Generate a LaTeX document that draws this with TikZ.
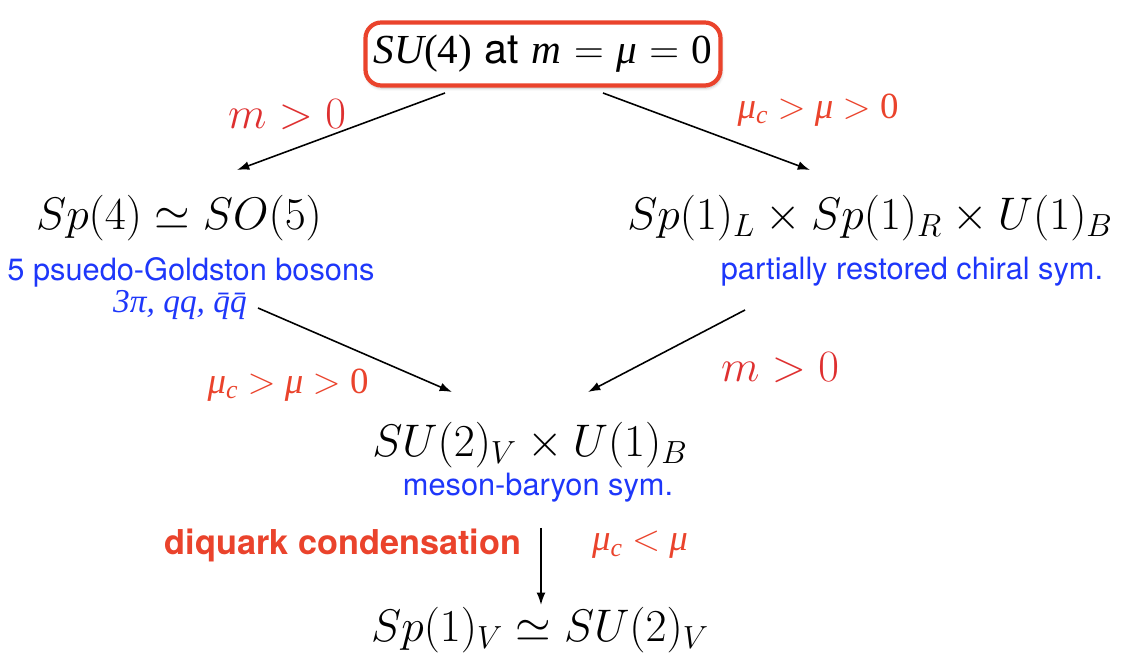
\RequirePackage{fix-cm}
\documentclass[tikz,border=0pt]{standalone}
\usepackage{amsmath}
\usepackage{fontspec}
\setsansfont{TeX Gyre Heros}
\newfontfamily\kfont{Liberation Serif}
\usetikzlibrary{arrows.meta, positioning, calc, shadows.blur}

\definecolor{condred}{RGB}{234,67,44}
\definecolor{massred}{RGB}{222,48,48}
\definecolor{noteblue}{RGB}{30,55,250}

\begin{document}
\begin{tikzpicture}[
        % styles
        >={Latex[length=7pt,width=5pt]},
        group/.style={inner sep=2pt, font=\fontsize{26}{30}\selectfont},
        topbox/.style={draw=condred, line width=2.4pt, rounded corners=9pt,
            minimum width=7.1cm, minimum height=1.26cm, fill=white,
            blur shadow={shadow xshift=0.6pt, shadow yshift=-1.5pt, shadow blur steps=6, shadow opacity=25},
            font=\fontsize{23.5}{28}\selectfont},
        note/.style={inner sep=1pt, text=noteblue, font=\sffamily\fontsize{17.5}{21}\selectfont},
        masslabel/.style={inner sep=1pt, text=massred, font=\fontsize{25.5}{29}\selectfont},
        chemlabel/.style={inner sep=1pt, text=condred, font=\kfont\fontsize{21}{25}\selectfont},
        arrow/.style={->, line width=0.9pt, black}
    ]
    \useasboundingbox (0,0) rectangle (22.48,13.14);

    % 1. nodes
    \node (top) [topbox] at (10.86,12.06)
        {{\kfont\itshape SU}{\kfont(4)} {\sffamily at} {\kfont\itshape m} $=$ {\kfont\itshape μ} $=$ {\kfont 0}};

    \node (sp4) [group] at (3.58,8.78) {$Sp(4) \simeq SO(5)$};
    \node (chiral) [group] at (17.4,8.78) {$Sp(1)_L \times Sp(1)_R \times U(1)_B$};

    \node (goldston) [note] at (3.82,7.70) {5 psuedo-Goldston bosons};
    \node (pions) [note, font=\kfont\itshape\fontsize{19}{22}\selectfont] at (3.6,7.04)
        {3π, \textit{qq}, \textit{q̄q̄}};
    \node (restored) [note] at (18.24,7.70) {partially restored chiral sym.};

    \node (su2) [group] at (10.6,4.24) {$SU(2)_V \times U(1)_B$};
    \node (mesbar) [note] at (10.76,3.38) {meson-baryon sym.};

    \node (sp1v) [group] at (10.8,0.54) {$Sp(1)_V \simeq SU(2)_V$};

    % 2. labels on the arrows
    \node (m1) [masslabel] at (5.74,10.84) {$m > 0$};
    \node (mu1) [chemlabel] at (16.36,10.94) {{\itshape μ\textsubscript{c}} $>$ {\itshape μ} $>$ 0};
    \node (mu2) [chemlabel] at (5.76,5.44) {{\itshape μ\textsubscript{c}} $>$ {\itshape μ} $>$ 0};
    \node (m2) [masslabel] at (15.6,5.78) {$m > 0$};
    \node (diq) [inner sep=1pt, text=condred, font=\sffamily\bfseries\fontsize{19.5}{23}\selectfont]
        at (6.86,2.24) {diquark condensation};
    \node (mu3) [chemlabel] at (12.8,2.24) {{\itshape μ\textsubscript{c}} $<$ {\itshape μ}};

    % 3. arrows
    \draw[arrow] ([shift={(-1.96,-0.78)}]top.center) -- ([shift={(1.16,0.96)}]sp4.center);
    \draw[arrow] ([shift={(1.2,-0.78)}]top.center) -- ([shift={(-1.2,0.96)}]chiral.center);
    \draw[arrow] ([shift={(1.56,-0.06)}]pions.center) -- ([shift={(-1.56,1.06)}]su2.center);
    \draw[arrow] ([shift={(-3.34,-0.76)}]restored.center) -- ([shift={(1.16,1.06)}]su2.center);
    \draw[arrow] ([shift={(0.22,-1.66)}]su2.center) -- ([shift={(0.02,0.5)}]sp1v.center);

\end{tikzpicture}
\end{document}
